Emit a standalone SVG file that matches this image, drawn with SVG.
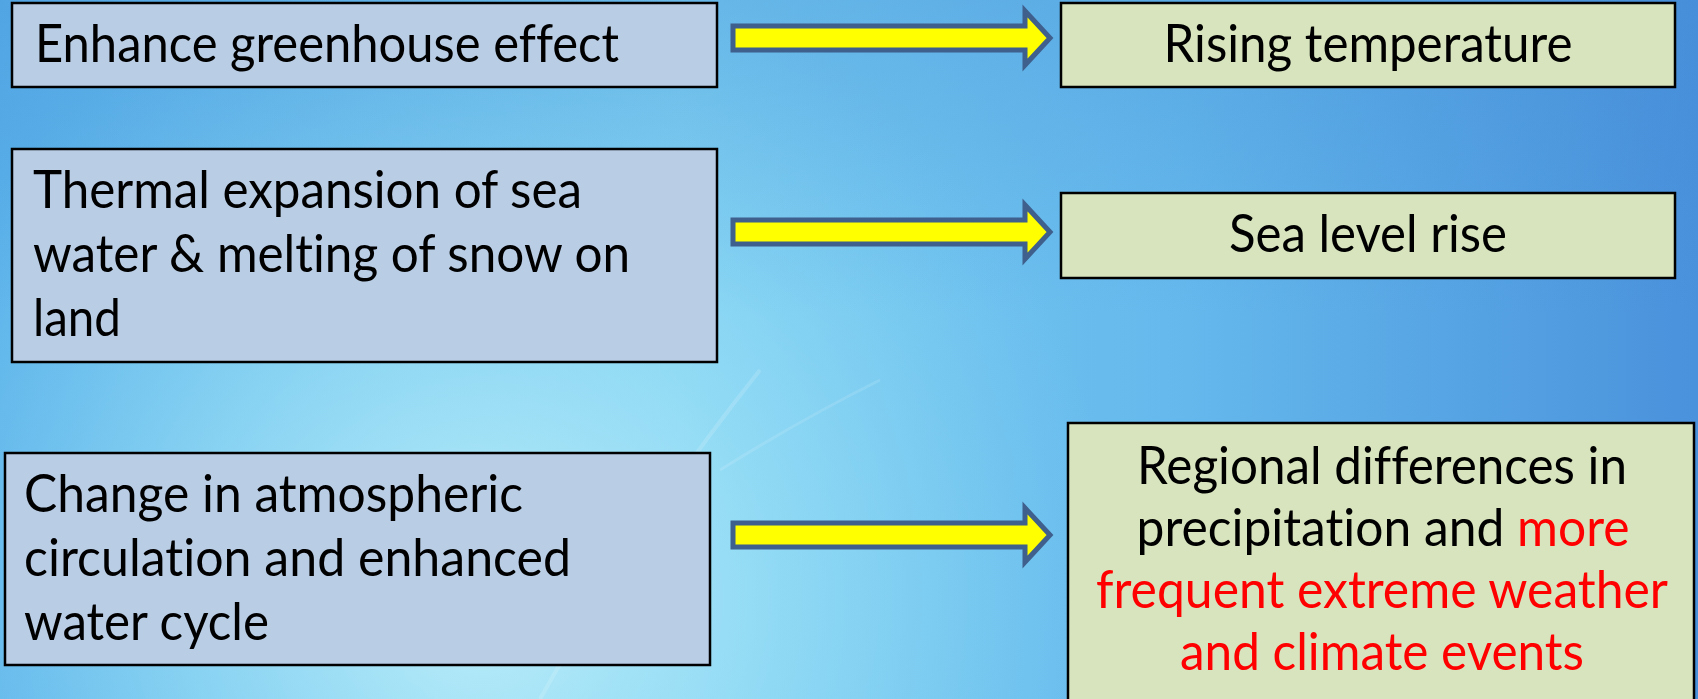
<svg xmlns="http://www.w3.org/2000/svg" width="1698" height="699" viewBox="0 0 1698 699">
<style>
.bg{fill:url(#bgH)}
.src{fill:#B9CDE5;stroke:#000;stroke-width:2.5}
.dst{fill:#D7E4BD;stroke:#000;stroke-width:2.5}
.t{font-family:Lato,"Open Sans","Noto Sans",sans-serif;font-size:53px;fill:#000;font-variant-ligatures:none;font-feature-settings:"liga" 0,"clig" 0}
.c{text-anchor:middle}
.red{fill:#FF0000}
.arr{fill:#FFFF00;stroke:#3F5F8C;stroke-width:5;stroke-linejoin:miter}
</style>
<defs>
<linearGradient id="bgH" x1="0" y1="0" x2="1" y2="0">
<stop offset="0" stop-color="#5AB2EA"/>
<stop offset="0.4" stop-color="#7ACEF2"/>
<stop offset="0.7" stop-color="#64B8EC"/>
<stop offset="1" stop-color="#4A92DC"/>
</linearGradient>
<radialGradient id="glow" cx="480" cy="600" r="640" gradientUnits="userSpaceOnUse">
<stop offset="0" stop-color="#C4F2FA" stop-opacity="0.9"/>
<stop offset="0.5" stop-color="#A6E6F7" stop-opacity="0.5"/>
<stop offset="1" stop-color="#8ED8F4" stop-opacity="0"/>
</radialGradient>
<linearGradient id="topShade" x1="0" y1="0" x2="0" y2="1">
<stop offset="0" stop-color="#3E86D2" stop-opacity="0.3"/>
<stop offset="0.45" stop-color="#3E86D2" stop-opacity="0"/>
</linearGradient>
</defs>
<g id="background">
<rect class="bg" x="0" y="0" width="1698" height="699"/>
<rect x="0" y="0" width="1698" height="699" fill="url(#glow)"/>
<rect x="0" y="0" width="1698" height="699" fill="url(#topShade)"/>
<path d="M540 699 Q 640 520 760 370" fill="none" stroke="#FFFFFF" stroke-opacity="0.15" stroke-width="4"/>
<path d="M720 470 Q 800 420 880 380" fill="none" stroke="#FFFFFF" stroke-opacity="0.12" stroke-width="3"/>
</g>
<g id="connectors">
<polygon class="arr" points="733,26 1025,26 1025,11 1050,38 1025,65 1025,50 733,50"/>
<polygon class="arr" points="733,220 1025,220 1025,205 1050,232 1025,259 1025,244 733,244"/>
<polygon class="arr" points="733,523 1025,523 1025,508 1050,535 1025,562 1025,547 733,547"/>
</g>
<g id="node-greenhouse">
<rect class="src" x="12" y="3" width="705" height="84"/>
<text class="t" x="35" y="62" textLength="584" lengthAdjust="spacingAndGlyphs">Enhance greenhouse effect</text>
</g>
<g id="node-temperature">
<rect class="dst" x="1061" y="3" width="614" height="84"/>
<text class="t c" x="1368" y="62" textLength="409" lengthAdjust="spacingAndGlyphs">Rising temperature</text>
</g>
<g id="node-thermal">
<rect class="src" x="12" y="149" width="705" height="213"/>
<text class="t" x="33" y="208" textLength="549" lengthAdjust="spacingAndGlyphs">Thermal expansion of sea</text>
<text class="t" x="33" y="272" textLength="597" lengthAdjust="spacingAndGlyphs">water &amp; melting of snow on</text>
<text class="t" x="33" y="336" textLength="88" lengthAdjust="spacingAndGlyphs">land</text>
</g>
<g id="node-sealevel">
<rect class="dst" x="1061" y="193" width="614" height="85"/>
<text class="t c" x="1368" y="252" textLength="278" lengthAdjust="spacingAndGlyphs">Sea level rise</text>
</g>
<g id="node-circulation">
<rect class="src" x="5" y="453" width="705" height="212"/>
<text class="t" x="24" y="512" textLength="499" lengthAdjust="spacingAndGlyphs">Change in atmospheric</text>
<text class="t" x="24" y="576" textLength="547" lengthAdjust="spacingAndGlyphs">circulation and enhanced</text>
<text class="t" x="24" y="640" textLength="245" lengthAdjust="spacingAndGlyphs">water cycle</text>
</g>
<g id="node-regional">
<rect class="dst" x="1068" y="423" width="626" height="290"/>
<text class="t c" x="1382" y="484" textLength="490" lengthAdjust="spacingAndGlyphs">Regional differences in</text>
<text class="t c" x="1383" y="546" textLength="493" lengthAdjust="spacingAndGlyphs">precipitation and <tspan class="red">more</tspan></text>
<text class="t c red" x="1382" y="608" textLength="572" lengthAdjust="spacingAndGlyphs">frequent extreme weather</text>
<text class="t c red" x="1382" y="670" textLength="404" lengthAdjust="spacingAndGlyphs">and climate events</text>
</g>
</svg>
